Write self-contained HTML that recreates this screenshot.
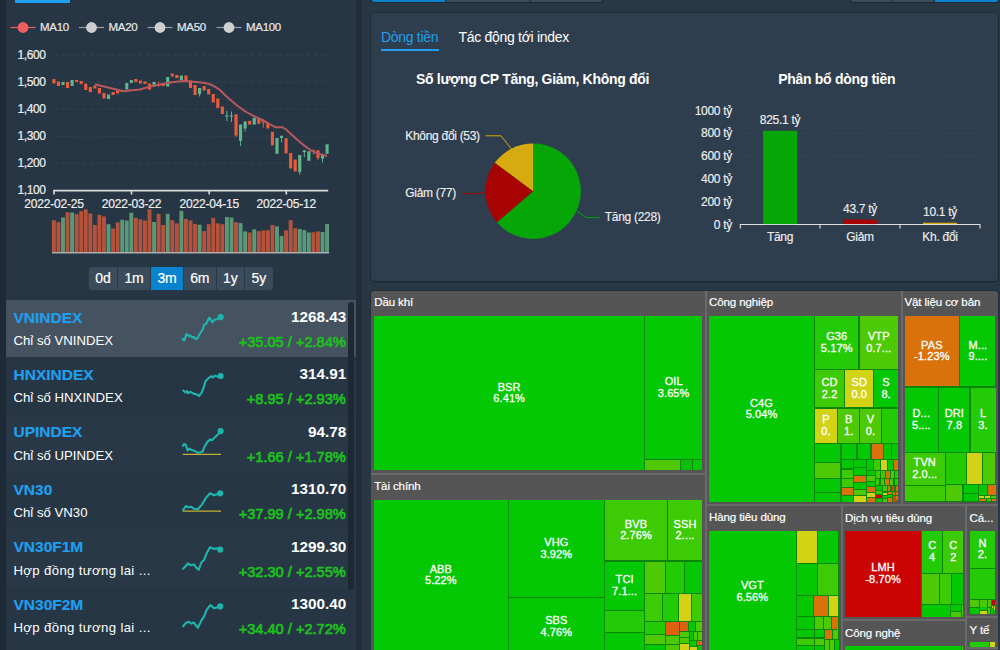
<!DOCTYPE html>
<html lang="vi"><head><meta charset="utf-8"><title>Market</title>
<style>
html,body{margin:0;padding:0}
body{width:1000px;height:650px;overflow:hidden;position:relative;background:#273743;font-family:"Liberation Sans",sans-serif;color:#fff}
#root{position:absolute;left:0;top:0;width:1000px;height:650px;overflow:hidden}
#root div{position:absolute}
.t{position:absolute;white-space:nowrap;line-height:1;letter-spacing:-0.3px}
.r{transform:translateX(-100%)}
.c{transform:translateX(-50%)}
.b{font-weight:bold}
svg{position:absolute;left:0;top:0}
.lab{position:absolute;display:flex;flex-direction:column;align-items:center;justify-content:center;font-size:11px;line-height:11.4px;color:#fff;text-align:center;white-space:nowrap;letter-spacing:0.1px;-webkit-text-stroke:0.3px #fff}
</style></head><body><div id="root">

<div style="left:0.0px;top:0.0px;width:5.5px;height:650.0px;background:#1e2a36;"></div>
<div style="left:5.5px;top:0.0px;width:350.5px;height:650.0px;background:#263645;"></div>
<div style="left:356.0px;top:0.0px;width:6.0px;height:650.0px;background:#212d38;"></div>
<div style="left:15.4px;top:0.0px;width:54.6px;height:2.6px;background:#1f9fee;"></div>
<div style="left:371.3px;top:0.0px;width:231.7px;height:2.8px;background:#1f2a35;border-radius:0 0 4px 4px"></div>
<div style="left:850.3px;top:0.0px;width:148.4px;height:2.8px;background:#1f2a35;border-radius:0 0 4px 4px"></div>
<div style="left:372.0px;top:0.0px;width:73.0px;height:2.1px;background:#0a83cf;border-radius:0 0 0 3px"></div>
<div style="left:446.0px;top:0.0px;width:84.0px;height:2.1px;background:#3a4b5b;"></div>
<div style="left:531.0px;top:0.0px;width:71.0px;height:2.1px;background:#3a4b5b;border-radius:0 0 3px 0"></div>
<div style="left:851.0px;top:0.0px;width:40.0px;height:2.1px;background:#3a4b5b;border-radius:0 0 0 3px"></div>
<div style="left:892.0px;top:0.0px;width:42.0px;height:2.1px;background:#3a4b5b;"></div>
<div style="left:935.0px;top:0.0px;width:63.0px;height:2.0px;background:#0a83cf;border-radius:0 0 3px 0"></div>
<div style="left:371.0px;top:13.2px;width:627.0px;height:267.8px;background:#2f3e4f;border-radius:4px;box-shadow:0 0 0 1px rgba(20,30,40,.35),0 1px 2px rgba(0,0,0,.25)"></div>
<span class="t " style="left:40.0px;top:22.0px;font-size:11.5px;color:#e8e8e8;-webkit-text-stroke:0.2px #e8e8e8">MA10</span>
<span class="t " style="left:108.5px;top:22.0px;font-size:11.5px;color:#e8e8e8;-webkit-text-stroke:0.2px #e8e8e8">MA20</span>
<span class="t " style="left:177.0px;top:22.0px;font-size:11.5px;color:#e8e8e8;-webkit-text-stroke:0.2px #e8e8e8">MA50</span>
<span class="t " style="left:246.0px;top:22.0px;font-size:11.5px;color:#e8e8e8;-webkit-text-stroke:0.2px #e8e8e8">MA100</span>
<span class="t r" style="left:45.5px;top:48.6px;font-size:12px;color:#eee;letter-spacing:-0.4px;-webkit-text-stroke:0.2px #eee">1,600</span>
<span class="t r" style="left:45.5px;top:75.6px;font-size:12px;color:#eee;letter-spacing:-0.4px;-webkit-text-stroke:0.2px #eee">1,500</span>
<span class="t r" style="left:45.5px;top:102.6px;font-size:12px;color:#eee;letter-spacing:-0.4px;-webkit-text-stroke:0.2px #eee">1,400</span>
<span class="t r" style="left:45.5px;top:129.7px;font-size:12px;color:#eee;letter-spacing:-0.4px;-webkit-text-stroke:0.2px #eee">1,300</span>
<span class="t r" style="left:45.5px;top:156.7px;font-size:12px;color:#eee;letter-spacing:-0.4px;-webkit-text-stroke:0.2px #eee">1,200</span>
<span class="t r" style="left:45.5px;top:183.7px;font-size:12px;color:#eee;letter-spacing:-0.4px;-webkit-text-stroke:0.2px #eee">1,100</span>
<span class="t c" style="left:54.0px;top:198.0px;font-size:12px;color:#eee;letter-spacing:-0.2px;-webkit-text-stroke:0.2px #eee">2022-02-25</span>
<span class="t c" style="left:131.5px;top:198.0px;font-size:12px;color:#eee;letter-spacing:-0.2px;-webkit-text-stroke:0.2px #eee">2022-03-22</span>
<span class="t c" style="left:209.2px;top:198.0px;font-size:12px;color:#eee;letter-spacing:-0.2px;-webkit-text-stroke:0.2px #eee">2022-04-15</span>
<span class="t c" style="left:286.3px;top:198.0px;font-size:12px;color:#eee;letter-spacing:-0.2px;-webkit-text-stroke:0.2px #eee">2022-05-12</span>
<div style="left:88.2px;top:266.6px;width:185.3px;height:24.1px;background:#2b3947;border-radius:4px"></div>
<div style="left:89.2px;top:267.2px;width:27.6px;height:23.0px;background:#3a4b5b;border-radius:3px 0 0 3px"></div>
<span class="t c" style="left:103.0px;top:271.0px;font-size:14px;color:#fff;letter-spacing:-0.1px;-webkit-text-stroke:0.2px #fff">0d</span>
<div style="left:117.8px;top:267.2px;width:32.4px;height:23.0px;background:#3a4b5b;"></div>
<span class="t c" style="left:134.0px;top:271.0px;font-size:14px;color:#fff;letter-spacing:-0.1px;-webkit-text-stroke:0.2px #fff">1m</span>
<div style="left:151.2px;top:267.2px;width:31.6px;height:23.0px;background:#0a83cf;"></div>
<span class="t c" style="left:167.0px;top:271.0px;font-size:14px;color:#fff;letter-spacing:-0.1px;-webkit-text-stroke:0.2px #fff">3m</span>
<div style="left:183.8px;top:267.2px;width:32.0px;height:23.0px;background:#3a4b5b;"></div>
<span class="t c" style="left:199.8px;top:271.0px;font-size:14px;color:#fff;letter-spacing:-0.1px;-webkit-text-stroke:0.2px #fff">6m</span>
<div style="left:216.8px;top:267.2px;width:27.2px;height:23.0px;background:#3a4b5b;"></div>
<span class="t c" style="left:230.4px;top:271.0px;font-size:14px;color:#fff;letter-spacing:-0.1px;-webkit-text-stroke:0.2px #fff">1y</span>
<div style="left:245.0px;top:267.2px;width:27.5px;height:23.0px;background:#3a4b5b;border-radius:0 3px 3px 0"></div>
<span class="t c" style="left:258.8px;top:271.0px;font-size:14px;color:#fff;letter-spacing:-0.1px;-webkit-text-stroke:0.2px #fff">5y</span>
<div style="left:5.5px;top:299.5px;width:350.5px;height:57.5px;background:#45525f;"></div>
<span class="t b" style="left:13.5px;top:309.5px;font-size:15.5px;color:#1f9fee;letter-spacing:0;-webkit-text-stroke:0.2px #1f9fee">VNINDEX</span>
<span class="t " style="left:13.5px;top:333.8px;font-size:13.2px;color:#fff;letter-spacing:0">Chỉ số VNINDEX</span>
<span class="t b r" style="left:346.2px;top:309.0px;font-size:15.3px;color:#fff;letter-spacing:0">1268.43</span>
<span class="t r" style="left:345.8px;top:334.7px;font-size:14.6px;color:#1dc01d;letter-spacing:0;-webkit-text-stroke:0.7px #1dc01d">+35.05 / +2.84%</span>
<span class="t b" style="left:13.5px;top:366.9px;font-size:15.5px;color:#1f9fee;letter-spacing:0;-webkit-text-stroke:0.2px #1f9fee">HNXINDEX</span>
<span class="t " style="left:13.5px;top:391.2px;font-size:13.2px;color:#fff;letter-spacing:0">Chỉ số HNXINDEX</span>
<span class="t b r" style="left:346.2px;top:366.4px;font-size:15.3px;color:#fff;letter-spacing:0">314.91</span>
<span class="t r" style="left:345.8px;top:392.1px;font-size:14.6px;color:#1dc01d;letter-spacing:0;-webkit-text-stroke:0.7px #1dc01d">+8.95 / +2.93%</span>
<div style="left:5.5px;top:414.4px;width:350.5px;height:57.4px;background:#283847;"></div>
<span class="t b" style="left:13.5px;top:424.4px;font-size:15.5px;color:#1f9fee;letter-spacing:0;-webkit-text-stroke:0.2px #1f9fee">UPINDEX</span>
<span class="t " style="left:13.5px;top:448.7px;font-size:13.2px;color:#fff;letter-spacing:0">Chỉ số UPINDEX</span>
<span class="t b r" style="left:346.2px;top:423.9px;font-size:15.3px;color:#fff;letter-spacing:0">94.78</span>
<span class="t r" style="left:345.8px;top:449.6px;font-size:14.6px;color:#1dc01d;letter-spacing:0;-webkit-text-stroke:0.7px #1dc01d">+1.66 / +1.78%</span>
<span class="t b" style="left:13.5px;top:481.9px;font-size:15.5px;color:#1f9fee;letter-spacing:0;-webkit-text-stroke:0.2px #1f9fee">VN30</span>
<span class="t " style="left:13.5px;top:506.2px;font-size:13.2px;color:#fff;letter-spacing:0">Chỉ số VN30</span>
<span class="t b r" style="left:346.2px;top:481.4px;font-size:15.3px;color:#fff;letter-spacing:0">1310.70</span>
<span class="t r" style="left:345.8px;top:507.1px;font-size:14.6px;color:#1dc01d;letter-spacing:0;-webkit-text-stroke:0.7px #1dc01d">+37.99 / +2.98%</span>
<div style="left:5.5px;top:529.3px;width:350.5px;height:57.5px;background:#283847;"></div>
<span class="t b" style="left:13.5px;top:539.3px;font-size:15.5px;color:#1f9fee;letter-spacing:0;-webkit-text-stroke:0.2px #1f9fee">VN30F1M</span>
<span class="t " style="left:13.5px;top:563.6px;font-size:13.2px;color:#fff;letter-spacing:0.35px">Hợp đồng tương lai ...</span>
<span class="t b r" style="left:346.2px;top:538.8px;font-size:15.3px;color:#fff;letter-spacing:0">1299.30</span>
<span class="t r" style="left:345.8px;top:564.5px;font-size:14.6px;color:#1dc01d;letter-spacing:0;-webkit-text-stroke:0.7px #1dc01d">+32.30 / +2.55%</span>
<span class="t b" style="left:13.5px;top:596.8px;font-size:15.5px;color:#1f9fee;letter-spacing:0;-webkit-text-stroke:0.2px #1f9fee">VN30F2M</span>
<span class="t " style="left:13.5px;top:621.0px;font-size:13.2px;color:#fff;letter-spacing:0.35px">Hợp đồng tương lai ...</span>
<span class="t b r" style="left:346.2px;top:596.2px;font-size:15.3px;color:#fff;letter-spacing:0">1300.40</span>
<span class="t r" style="left:345.8px;top:622.0px;font-size:14.6px;color:#1dc01d;letter-spacing:0;-webkit-text-stroke:0.7px #1dc01d">+34.40 / +2.72%</span>
<div style="left:348.0px;top:302.0px;width:5.7px;height:288.0px;background:#1d2833;border-radius:3px"></div>
<span class="t " style="left:381.0px;top:30.0px;font-size:14px;color:#1f9fee">Dòng tiền</span>
<div style="left:381.0px;top:49.0px;width:57.5px;height:2.3px;background:#1f9fee;"></div>
<span class="t " style="left:458.5px;top:30.0px;font-size:14px;color:#fff">Tác động tới index</span>
<span class="t b c" style="left:532.5px;top:72.0px;font-size:14px;color:#fff">Số lượng CP Tăng, Giảm, Không đổi</span>
<span class="t b c" style="left:836.7px;top:72.0px;font-size:14px;color:#fff">Phân bổ dòng tiền</span>
<span class="t " style="left:405.3px;top:129.5px;font-size:12px;color:#eee;-webkit-text-stroke:0.15px #eee">Không đổi (53)</span>
<span class="t " style="left:405.3px;top:186.5px;font-size:12px;color:#eee;-webkit-text-stroke:0.15px #eee">Giảm (77)</span>
<span class="t " style="left:604.8px;top:210.5px;font-size:12px;color:#eee;-webkit-text-stroke:0.15px #eee">Tăng (228)</span>
<span class="t r" style="left:732.0px;top:104.6px;font-size:12px;color:#eee;-webkit-text-stroke:0.15px #eee">1000 tỷ</span>
<span class="t r" style="left:732.0px;top:127.4px;font-size:12px;color:#eee;-webkit-text-stroke:0.15px #eee">800 tỷ</span>
<span class="t r" style="left:732.0px;top:150.2px;font-size:12px;color:#eee;-webkit-text-stroke:0.15px #eee">600 tỷ</span>
<span class="t r" style="left:732.0px;top:172.9px;font-size:12px;color:#eee;-webkit-text-stroke:0.15px #eee">400 tỷ</span>
<span class="t r" style="left:732.0px;top:195.7px;font-size:12px;color:#eee;-webkit-text-stroke:0.15px #eee">200 tỷ</span>
<span class="t r" style="left:732.0px;top:218.5px;font-size:12px;color:#eee;-webkit-text-stroke:0.15px #eee">0 tỷ</span>
<span class="t c" style="left:780.0px;top:113.7px;font-size:12px;color:#eee;-webkit-text-stroke:0.15px #eee">825.1 tỷ</span>
<span class="t c" style="left:860.0px;top:203.0px;font-size:12px;color:#eee;-webkit-text-stroke:0.15px #eee">43.7 tỷ</span>
<span class="t c" style="left:940.0px;top:206.4px;font-size:12px;color:#eee;-webkit-text-stroke:0.15px #eee">10.1 tỷ</span>
<span class="t c" style="left:780.0px;top:231.4px;font-size:12px;color:#eee;-webkit-text-stroke:0.15px #eee">Tăng</span>
<span class="t c" style="left:860.0px;top:231.4px;font-size:12px;color:#eee;-webkit-text-stroke:0.15px #eee">Giảm</span>
<span class="t c" style="left:940.0px;top:231.4px;font-size:12px;color:#eee;-webkit-text-stroke:0.15px #eee">Kh. đổi</span>
<svg width="1000" height="650" viewBox="0 0 1000 650"><line x1="10.5" y1="27.5" x2="35.5" y2="27.5" stroke="#ee6060" stroke-width="1.2"/><circle cx="23" cy="27.5" r="5.4" fill="#ee6060"/><line x1="79.0" y1="27.5" x2="104.0" y2="27.5" stroke="#9aa0a6" stroke-width="1.2"/><circle cx="91.5" cy="27.5" r="5.4" fill="#cfcfcf"/><line x1="147.5" y1="27.5" x2="172.5" y2="27.5" stroke="#9aa0a6" stroke-width="1.2"/><circle cx="160" cy="27.5" r="5.4" fill="#cfcfcf"/><line x1="216.5" y1="27.5" x2="241.5" y2="27.5" stroke="#9aa0a6" stroke-width="1.2"/><circle cx="229" cy="27.5" r="5.4" fill="#cfcfcf"/><line x1="54.5" y1="55.1" x2="328" y2="55.1" stroke="#36444f" stroke-width="1" stroke-dasharray="4 3"/><line x1="54.5" y1="82.1" x2="328" y2="82.1" stroke="#36444f" stroke-width="1" stroke-dasharray="4 3"/><line x1="54.5" y1="109.1" x2="328" y2="109.1" stroke="#36444f" stroke-width="1" stroke-dasharray="4 3"/><line x1="54.5" y1="136.2" x2="328" y2="136.2" stroke="#36444f" stroke-width="1" stroke-dasharray="4 3"/><line x1="54.5" y1="163.2" x2="328" y2="163.2" stroke="#36444f" stroke-width="1" stroke-dasharray="4 3"/><path d="M54 194.5V190.7H328.2 M131.5 190.7V194.5 M209.2 190.7V194.5 M286.3 190.7V194.5" stroke="#d8d8d8" stroke-width="1.7" fill="none"/><rect x="52.35" y="79" width="3.1" height="4.5" fill="#eb5b3c"/><rect x="56.90" y="81.5" width="3.1" height="4.5" fill="#eb5b3c"/><rect x="61.46" y="82" width="3.1" height="3.0" fill="#62b68e"/><rect x="66.01" y="82" width="3.1" height="6.0" fill="#eb5b3c"/><rect x="70.56" y="80" width="3.1" height="6.0" fill="#62b68e"/><rect x="75.11" y="80" width="3.1" height="2.0" fill="#eb5b3c"/><rect x="79.67" y="81" width="3.1" height="3.0" fill="#eb5b3c"/><line x1="85.77" y1="83" x2="85.77" y2="90" stroke="#eb5b3c" stroke-width="1"/><rect x="84.22" y="84" width="3.1" height="6.0" fill="#eb5b3c"/><rect x="88.77" y="87" width="3.1" height="5.0" fill="#eb5b3c"/><rect x="93.33" y="85.5" width="3.1" height="3.0" fill="#eb5b3c"/><rect x="97.88" y="88" width="3.1" height="5.5" fill="#eb5b3c"/><rect x="102.43" y="93" width="3.1" height="5.5" fill="#eb5b3c"/><rect x="106.99" y="94.5" width="3.1" height="4.5" fill="#62b68e"/><rect x="111.54" y="92" width="3.1" height="3.0" fill="#eb5b3c"/><rect x="116.09" y="90.5" width="3.1" height="3.0" fill="#eb5b3c"/><rect x="120.64" y="90" width="3.1" height="2.0" fill="#62b68e"/><rect x="125.20" y="83" width="3.1" height="6.5" fill="#62b68e"/><rect x="129.75" y="80" width="3.1" height="3.0" fill="#62b68e"/><rect x="134.30" y="79" width="3.1" height="3.0" fill="#eb5b3c"/><rect x="138.86" y="80.5" width="3.1" height="3.0" fill="#eb5b3c"/><rect x="143.41" y="81.5" width="3.1" height="2.5" fill="#eb5b3c"/><rect x="147.96" y="83.5" width="3.1" height="6.0" fill="#eb5b3c"/><rect x="152.52" y="82" width="3.1" height="4.5" fill="#62b68e"/><line x1="158.62" y1="81.5" x2="158.62" y2="87" stroke="#eb5b3c" stroke-width="1"/><rect x="157.07" y="84" width="3.1" height="1.5" fill="#eb5b3c"/><rect x="161.62" y="83" width="3.1" height="3.0" fill="#eb5b3c"/><rect x="166.17" y="77" width="3.1" height="9.5" fill="#62b68e"/><rect x="170.73" y="73.5" width="3.1" height="3.0" fill="#eb5b3c"/><rect x="175.28" y="75" width="3.1" height="3.0" fill="#eb5b3c"/><rect x="179.83" y="75.5" width="3.1" height="4.5" fill="#62b68e"/><rect x="184.39" y="75.5" width="3.1" height="6.0" fill="#eb5b3c"/><rect x="188.94" y="80.5" width="3.1" height="7.5" fill="#eb5b3c"/><rect x="193.49" y="85" width="3.1" height="10.0" fill="#eb5b3c"/><line x1="199.60" y1="88" x2="199.60" y2="96.5" stroke="#62b68e" stroke-width="1"/><rect x="198.05" y="88" width="3.1" height="6.0" fill="#62b68e"/><rect x="202.60" y="86" width="3.1" height="4.5" fill="#eb5b3c"/><rect x="207.15" y="89" width="3.1" height="5.5" fill="#eb5b3c"/><rect x="211.70" y="94" width="3.1" height="8.5" fill="#eb5b3c"/><rect x="216.26" y="98.5" width="3.1" height="9.5" fill="#eb5b3c"/><rect x="220.81" y="106.5" width="3.1" height="7.5" fill="#eb5b3c"/><line x1="226.91" y1="111" x2="226.91" y2="121" stroke="#62b68e" stroke-width="1"/><rect x="225.36" y="115.4" width="3.1" height="1.2" fill="#62b68e"/><line x1="231.47" y1="111.5" x2="231.47" y2="122" stroke="#62b68e" stroke-width="1"/><rect x="229.92" y="115.6" width="3.1" height="1.2" fill="#62b68e"/><line x1="236.02" y1="114.3" x2="236.02" y2="137" stroke="#eb5b3c" stroke-width="1"/><rect x="234.47" y="114.3" width="3.1" height="21.1" fill="#eb5b3c"/><line x1="240.57" y1="124.6" x2="240.57" y2="146" stroke="#62b68e" stroke-width="1"/><rect x="239.02" y="124.6" width="3.1" height="16.2" fill="#62b68e"/><line x1="245.13" y1="121.5" x2="245.13" y2="131.5" stroke="#62b68e" stroke-width="1"/><rect x="243.58" y="121.5" width="3.1" height="7.0" fill="#62b68e"/><rect x="248.13" y="120.8" width="3.1" height="3.8" fill="#eb5b3c"/><rect x="252.68" y="117.7" width="3.1" height="6.9" fill="#62b68e"/><rect x="257.23" y="118" width="3.1" height="5.8" fill="#eb5b3c"/><line x1="263.34" y1="119" x2="263.34" y2="127.7" stroke="#eb5b3c" stroke-width="1"/><rect x="261.79" y="120" width="3.1" height="2.3" fill="#eb5b3c"/><rect x="266.34" y="123" width="3.1" height="5.5" fill="#eb5b3c"/><rect x="270.89" y="131.8" width="3.1" height="13.6" fill="#eb5b3c"/><rect x="275.45" y="138" width="3.1" height="15.8" fill="#62b68e"/><line x1="281.55" y1="135.4" x2="281.55" y2="142.3" stroke="#62b68e" stroke-width="1"/><rect x="280.00" y="136" width="3.1" height="2.0" fill="#62b68e"/><rect x="284.55" y="138.2" width="3.1" height="15.2" fill="#eb5b3c"/><rect x="289.11" y="153" width="3.1" height="15.5" fill="#eb5b3c"/><rect x="293.66" y="159.5" width="3.1" height="12.0" fill="#eb5b3c"/><line x1="299.76" y1="155" x2="299.76" y2="174.6" stroke="#62b68e" stroke-width="1"/><rect x="298.21" y="155" width="3.1" height="17.0" fill="#62b68e"/><line x1="304.31" y1="150.3" x2="304.31" y2="157" stroke="#62b68e" stroke-width="1"/><rect x="302.76" y="150.3" width="3.1" height="1.7" fill="#62b68e"/><rect x="307.32" y="151.2" width="3.1" height="9.6" fill="#62b68e"/><line x1="313.42" y1="149.2" x2="313.42" y2="154.6" stroke="#eb5b3c" stroke-width="1"/><rect x="311.87" y="150.5" width="3.1" height="1.5" fill="#eb5b3c"/><line x1="317.97" y1="150.3" x2="317.97" y2="160" stroke="#eb5b3c" stroke-width="1"/><rect x="316.42" y="150.3" width="3.1" height="7.7" fill="#eb5b3c"/><line x1="322.53" y1="154.3" x2="322.53" y2="162.3" stroke="#62b68e" stroke-width="1"/><rect x="320.98" y="154.3" width="3.1" height="4.2" fill="#62b68e"/><rect x="325.53" y="144.3" width="3.1" height="9.5" fill="#62b68e"/><polyline fill="none" stroke="#b9585a" stroke-width="2" stroke-linejoin="round" points="95,84.3 105,86.8 115,89.2 124,91.2 132,90.3 140,89.5 150,86.5 160,84.5 170,82.5 183,81 190,81.5 198,82.3 205,83 209,84 212,85.2 216,87.3 220,90 225,95 230,99.5 237,105.5 245.4,111.5 252,115.2 259,118.5 267,122.5 273,126 276,127.2 279,127.3 282.3,127.2 286,129.5 291.5,134.6 297,139.5 304,145.4 309,149 313,151.5 320,154 327,156"/><rect x="51.95" y="220.2" width="3.9" height="32.1" fill="#b4523b"/><rect x="56.50" y="222.1" width="3.9" height="30.2" fill="#b4523b"/><rect x="61.06" y="217.5" width="3.9" height="34.8" fill="#5a9878"/><rect x="65.61" y="212.2" width="3.9" height="40.1" fill="#b4523b"/><rect x="70.16" y="212.5" width="3.9" height="39.8" fill="#5a9878"/><rect x="74.71" y="214.1" width="3.9" height="38.2" fill="#b4523b"/><rect x="79.27" y="211.1" width="3.9" height="41.2" fill="#b4523b"/><rect x="83.82" y="209.3" width="3.9" height="43.0" fill="#b4523b"/><rect x="88.37" y="213.5" width="3.9" height="38.8" fill="#b4523b"/><rect x="92.93" y="225.0" width="3.9" height="27.3" fill="#b4523b"/><rect x="97.48" y="214.8" width="3.9" height="37.5" fill="#b4523b"/><rect x="102.03" y="216.4" width="3.9" height="35.9" fill="#b4523b"/><rect x="106.59" y="224.2" width="3.9" height="28.1" fill="#5a9878"/><rect x="111.14" y="228.5" width="3.9" height="23.8" fill="#b4523b"/><rect x="115.69" y="222.3" width="3.9" height="30.0" fill="#b4523b"/><rect x="120.24" y="219.7" width="3.9" height="32.6" fill="#5a9878"/><rect x="124.80" y="220.5" width="3.9" height="31.8" fill="#5a9878"/><rect x="129.35" y="212.7" width="3.9" height="39.6" fill="#5a9878"/><rect x="133.90" y="217.8" width="3.9" height="34.5" fill="#b4523b"/><rect x="138.46" y="219.4" width="3.9" height="32.9" fill="#b4523b"/><rect x="143.01" y="220.5" width="3.9" height="31.8" fill="#b4523b"/><rect x="147.56" y="209.3" width="3.9" height="43.0" fill="#b4523b"/><rect x="152.12" y="222.1" width="3.9" height="30.2" fill="#5a9878"/><rect x="156.67" y="213.8" width="3.9" height="38.5" fill="#b4523b"/><rect x="161.22" y="225.0" width="3.9" height="27.3" fill="#b4523b"/><rect x="165.78" y="213.8" width="3.9" height="38.5" fill="#5a9878"/><rect x="170.33" y="220.2" width="3.9" height="32.1" fill="#b4523b"/><rect x="174.88" y="223.4" width="3.9" height="28.9" fill="#b4523b"/><rect x="179.43" y="210.9" width="3.9" height="41.4" fill="#5a9878"/><rect x="183.99" y="218.9" width="3.9" height="33.4" fill="#b4523b"/><rect x="188.54" y="220.5" width="3.9" height="31.8" fill="#b4523b"/><rect x="193.09" y="223.9" width="3.9" height="28.4" fill="#b4523b"/><rect x="197.65" y="224.7" width="3.9" height="27.6" fill="#5a9878"/><rect x="202.20" y="231.1" width="3.9" height="21.2" fill="#b4523b"/><rect x="206.75" y="224.2" width="3.9" height="28.1" fill="#b4523b"/><rect x="211.31" y="217.8" width="3.9" height="34.5" fill="#b4523b"/><rect x="215.86" y="223.4" width="3.9" height="28.9" fill="#b4523b"/><rect x="220.41" y="224.2" width="3.9" height="28.1" fill="#b4523b"/><rect x="224.96" y="217.0" width="3.9" height="35.3" fill="#5a9878"/><rect x="229.52" y="217.5" width="3.9" height="34.8" fill="#5a9878"/><rect x="234.07" y="222.1" width="3.9" height="30.2" fill="#b4523b"/><rect x="238.62" y="223.1" width="3.9" height="29.2" fill="#5a9878"/><rect x="243.18" y="231.4" width="3.9" height="20.9" fill="#5a9878"/><rect x="247.73" y="232.5" width="3.9" height="19.8" fill="#b4523b"/><rect x="252.28" y="229.3" width="3.9" height="23.0" fill="#5a9878"/><rect x="256.83" y="231.1" width="3.9" height="21.2" fill="#b4523b"/><rect x="261.39" y="230.4" width="3.9" height="21.9" fill="#b4523b"/><rect x="265.94" y="230.3" width="3.9" height="22.0" fill="#b4523b"/><rect x="270.49" y="225.0" width="3.9" height="27.3" fill="#b4523b"/><rect x="275.05" y="226.3" width="3.9" height="26.0" fill="#5a9878"/><rect x="279.60" y="235.9" width="3.9" height="16.4" fill="#5a9878"/><rect x="284.15" y="230.3" width="3.9" height="22.0" fill="#b4523b"/><rect x="288.71" y="220.2" width="3.9" height="32.1" fill="#b4523b"/><rect x="293.26" y="228.2" width="3.9" height="24.1" fill="#b4523b"/><rect x="297.81" y="229.0" width="3.9" height="23.3" fill="#5a9878"/><rect x="302.37" y="230.1" width="3.9" height="22.2" fill="#5a9878"/><rect x="306.92" y="232.5" width="3.9" height="19.8" fill="#5a9878"/><rect x="311.47" y="232.2" width="3.9" height="20.1" fill="#b4523b"/><rect x="316.02" y="231.4" width="3.9" height="20.9" fill="#b4523b"/><rect x="320.58" y="231.9" width="3.9" height="20.4" fill="#5a9878"/><rect x="325.13" y="223.9" width="3.9" height="28.4" fill="#5a9878"/><rect x="52" y="252.2" width="277" height="1.2" fill="#c9c9c9"/><line x1="182.7" y1="454.3" x2="221" y2="454.3" stroke="#c4b02e" stroke-width="1.3"/><line x1="182.7" y1="511.2" x2="221" y2="511.2" stroke="#c4b02e" stroke-width="1.3"/><polyline fill="none" stroke="#1fb5ad" stroke-width="2.1" stroke-linejoin="round" stroke-linecap="round" points="182.4,338.8 184.2,340.6 186.5,334.2 188.9,336 190.2,335.5 192.1,337.4 193.9,336.9 195.8,339.2 197.6,337.9 199.5,334.6 201.3,331.4 202.7,329.5 204.1,324.9 206.4,323.5 209.2,317.5 210.5,319.4 212.4,322.2 214.2,319.9 217.5,318.9 220.7,317.1"/><circle cx="220.7" cy="317.1" r="3.1" fill="#1fb5ad"/><polyline fill="none" stroke="#1fb5ad" stroke-width="2.1" stroke-linejoin="round" stroke-linecap="round" points="183.3,390.5 185.2,392.3 187,391 187.9,393.2 190.7,391.8 193.5,393.6 196.2,394.2 199,396 201.8,392.3 203.6,387.7 205.5,381.2 208.2,378.5 211,376.2 212.8,377.5 214.7,375.7 217.5,376.6 220.6,376"/><circle cx="220.6" cy="376" r="3.1" fill="#1fb5ad"/><polyline fill="none" stroke="#1fb5ad" stroke-width="2.1" stroke-linejoin="round" stroke-linecap="round" points="182.8,445.8 184.2,444 185.7,444.6 187.6,450.5 189.4,448.6 191.6,450.1 194.4,450.8 198.1,452.9 202.7,451.4 204.5,446.8 207.3,442.1 210.1,439.4 211.9,440.3 214.7,437.5 217.5,434.8 220.6,431.1"/><circle cx="220.6" cy="431.1" r="3.1" fill="#1fb5ad"/><polyline fill="none" stroke="#1fb5ad" stroke-width="2.1" stroke-linejoin="round" stroke-linecap="round" points="183.1,510 185.8,506 188.5,507.3 191.2,506.8 193.8,508.7 197.9,509.2 201.9,504.6 206,497.9 210,493.3 214,495.2 220.2,493.3"/><circle cx="220.2" cy="493.3" r="3.1" fill="#1fb5ad"/><polyline fill="none" stroke="#1fb5ad" stroke-width="2.1" stroke-linejoin="round" stroke-linecap="round" points="183.1,568.7 185.8,566 187.9,563.3 190.6,565.2 193.8,564.4 196.5,567.9 198.7,569.8 201.4,562.5 204.1,559.8 206.8,553.1 210,547.2 214,549 216.7,548.2 220.2,549.6"/><circle cx="220.2" cy="549.6" r="3.1" fill="#1fb5ad"/><polyline fill="none" stroke="#1fb5ad" stroke-width="2.1" stroke-linejoin="round" stroke-linecap="round" points="183.1,626.3 186.3,622.5 189,621.7 191.2,623.6 193.8,622.5 197.9,627.9 201.4,620.4 204.1,616.4 206.8,609.6 210.5,605 214,608.3 220.2,606.4"/><circle cx="220.2" cy="606.4" r="3.1" fill="#1fb5ad"/><path d="M533.1,191.2L533.10,143.50A47.7,47.7 0 1 1 496.95,222.32Z" fill="#07a607"/><path d="M533.1,191.2L496.95,222.32A47.7,47.7 0 0 1 494.86,162.69Z" fill="#a70303"/><path d="M533.1,191.2L494.86,162.69A47.7,47.7 0 0 1 533.10,143.50Z" fill="#d6ab10"/><polyline fill="none" stroke="#d6ab10" stroke-width="1" points="485.5,135.8 501,135.8 511.3,148.8"/><polyline fill="none" stroke="#a70303" stroke-width="1" points="462.3,193.7 476,193.7 487,191.5"/><polyline fill="none" stroke="#07a607" stroke-width="1" points="576.6,211 586,217.6 599.4,217.6"/><line x1="741" y1="110.6" x2="980" y2="110.6" stroke="#384751" stroke-width="1" stroke-dasharray="4 3"/><line x1="741" y1="133.4" x2="980" y2="133.4" stroke="#384751" stroke-width="1" stroke-dasharray="4 3"/><line x1="741" y1="156.2" x2="980" y2="156.2" stroke="#384751" stroke-width="1" stroke-dasharray="4 3"/><line x1="741" y1="178.9" x2="980" y2="178.9" stroke="#384751" stroke-width="1" stroke-dasharray="4 3"/><line x1="741" y1="201.7" x2="980" y2="201.7" stroke="#384751" stroke-width="1" stroke-dasharray="4 3"/><path d="M740.3 228.5V224.5H980V228.5 M820 224.5V228.5 M900 224.5V228.5" stroke="#e0e0e0" stroke-width="1.1" fill="none"/><rect x="763.1" y="130.8" width="34.1" height="93.3" fill="#07a607"/><rect x="843" y="219.5" width="33.8" height="4.6" fill="#a70303"/><rect x="923" y="222.7" width="34" height="1.3" fill="#d6ab10"/></svg>
<div style="left:370.3px;top:290.2px;width:628.3px;height:29.8px;background:#222e39;border-radius:3.5px"></div>
<div style="left:0;top:0;width:1000px;height:650px;clip-path:inset(291px 2px 0 371px round 3px 3px 0 0)">
<div style="left:371.0px;top:291.0px;width:627.0px;height:369.0px;background:#555555;"></div>
<span class="t " style="left:374.2px;top:297.3px;font-size:11.5px;color:#fff;letter-spacing:-0.1px;-webkit-text-stroke:0.2px #fff">Dầu khí</span>
<span class="t " style="left:374.2px;top:480.8px;font-size:11.5px;color:#fff;letter-spacing:-0.1px;-webkit-text-stroke:0.2px #fff">Tài chính</span>
<span class="t " style="left:709.0px;top:297.3px;font-size:11.5px;color:#fff;letter-spacing:-0.1px;-webkit-text-stroke:0.2px #fff">Công nghiệp</span>
<span class="t " style="left:904.5px;top:297.3px;font-size:11.5px;color:#fff;letter-spacing:-0.1px;-webkit-text-stroke:0.2px #fff">Vật liệu cơ bản</span>
<span class="t " style="left:709.0px;top:512.4px;font-size:11.5px;color:#fff;letter-spacing:-0.1px;-webkit-text-stroke:0.2px #fff">Hàng tiêu dùng</span>
<span class="t " style="left:845.0px;top:512.5px;font-size:11.5px;color:#fff;letter-spacing:-0.1px;-webkit-text-stroke:0.2px #fff">Dịch vụ tiêu dùng</span>
<span class="t " style="left:969.5px;top:512.5px;font-size:11.5px;color:#fff;letter-spacing:-0.1px;-webkit-text-stroke:0.2px #fff">Cá...</span>
<span class="t " style="left:845.0px;top:627.8px;font-size:11.5px;color:#fff;letter-spacing:-0.1px;-webkit-text-stroke:0.2px #fff">Công nghệ</span>
<span class="t " style="left:969.5px;top:625.0px;font-size:11.5px;color:#fff;letter-spacing:-0.1px;-webkit-text-stroke:0.2px #fff">Y tế</span>
<div style="left:704.7px;top:291.0px;width:2.0px;height:359.0px;background:#6a6a6a;"></div>
<div style="left:900.5px;top:291.0px;width:2.0px;height:213.5px;background:#6a6a6a;"></div>
<div style="left:840.5px;top:504.5px;width:2.0px;height:145.5px;background:#6a6a6a;"></div>
<div style="left:965.2px;top:504.5px;width:2.0px;height:145.5px;background:#6a6a6a;"></div>
<div style="left:371.0px;top:472.8px;width:334.7px;height:2.0px;background:#6a6a6a;"></div>
<div style="left:705.7px;top:503.5px;width:292.3px;height:2.0px;background:#6a6a6a;"></div>
<div style="left:841.5px;top:618.6px;width:124.7px;height:2.0px;background:#6a6a6a;"></div>
<div style="left:966.2px;top:615.9px;width:31.8px;height:2.0px;background:#6a6a6a;"></div>
<div style="left:966.2px;top:647.3px;width:31.8px;height:2.0px;background:#6a6a6a;"></div>
<div style="left:374.0px;top:316.0px;width:328.0px;height:154.0px;background:#0b860b;"></div>
<div class="lab" style="left:374.0px;top:316.0px;width:270.3px;height:154.0px;background:#04c804"><span>BSR</span><span>6.41%</span></div>
<div class="lab" style="left:645.3px;top:316.0px;width:56.7px;height:143.3px;background:#04c804"><span>OIL</span><span>3.65%</span></div>
<div style="left:645.3px;top:460.4px;width:34.3px;height:9.6px;background:#4dca05;"></div>
<div style="left:680.7px;top:460.4px;width:11.5px;height:9.6px;background:#0bbf0b;"></div>
<div style="left:693.3px;top:460.4px;width:8.7px;height:9.6px;background:#04c804;"></div>
<div style="left:374.0px;top:500.0px;width:328.0px;height:150.0px;background:#0b860b;"></div>
<div class="lab" style="left:374.0px;top:500.0px;width:133.6px;height:150.0px;background:#04c804"><span>ABB</span><span>5.22%</span></div>
<div class="lab" style="left:508.6px;top:500.0px;width:95.4px;height:97.0px;background:#04c804"><span>VHG</span><span>3.92%</span></div>
<div class="lab" style="left:508.6px;top:598.0px;width:95.4px;height:57.0px;background:#04c804"><span>SBS</span><span>4.76%</span></div>
<div class="lab" style="left:605.0px;top:500.0px;width:62.0px;height:60.3px;background:#3ccb05"><span>BVB</span><span>2.76%</span></div>
<div class="lab" style="left:668.1px;top:500.0px;width:33.9px;height:60.3px;background:#3ccb05"><span>SSH</span><span>2....</span></div>
<div class="lab" style="left:605.0px;top:561.5px;width:39.2px;height:48.4px;background:#04c804"><span>TCI</span><span>7.1...</span></div>
<div style="left:605.0px;top:611.0px;width:39.2px;height:21.2px;background:#22cb06;"></div>
<div style="left:605.0px;top:633.4px;width:39.2px;height:16.6px;background:#04c804;"></div>
<div style="left:645.3px;top:561.5px;width:19.6px;height:31.1px;background:#4dca05;"></div>
<div style="left:666.0px;top:561.5px;width:18.2px;height:31.1px;background:#22cb06;"></div>
<div style="left:685.4px;top:561.5px;width:16.6px;height:31.1px;background:#04c804;"></div>
<div style="left:645.3px;top:593.8px;width:16.8px;height:27.4px;background:#3ccb05;"></div>
<div style="left:663.2px;top:593.8px;width:15.0px;height:27.4px;background:#22cb06;"></div>
<div style="left:679.3px;top:593.8px;width:11.3px;height:27.4px;background:#d3d316;"></div>
<div style="left:691.7px;top:593.8px;width:10.3px;height:27.4px;background:#3ccb05;"></div>
<div style="left:645.3px;top:622.4px;width:19.4px;height:11.8px;background:#22cb06;"></div>
<div style="left:665.9px;top:622.4px;width:12.9px;height:12.2px;background:#de6010;"></div>
<div style="left:680.0px;top:622.4px;width:7.7px;height:8.8px;background:#de6010;"></div>
<div style="left:688.8px;top:622.4px;width:6.4px;height:8.8px;background:#04c804;"></div>
<div style="left:696.3px;top:622.4px;width:5.7px;height:8.8px;background:#4dca05;"></div>
<div style="left:645.3px;top:635.4px;width:19.4px;height:8.8px;background:#4dca05;"></div>
<div style="left:665.9px;top:635.8px;width:12.9px;height:8.4px;background:#4dca05;"></div>
<div style="left:680.0px;top:632.4px;width:8.6px;height:4.8px;background:#4dca05;"></div>
<div style="left:680.0px;top:638.2px;width:8.6px;height:5.0px;background:#4dca05;"></div>
<div style="left:680.0px;top:644.3px;width:8.6px;height:5.7px;background:#d3d316;"></div>
<div style="left:689.7px;top:632.4px;width:3.5px;height:7.6px;background:#04c804;"></div>
<div style="left:694.2px;top:632.4px;width:3.2px;height:7.6px;background:#4dca05;"></div>
<div style="left:698.3px;top:632.4px;width:3.7px;height:7.6px;background:#4dca05;"></div>
<div style="left:689.7px;top:641.0px;width:6.3px;height:5.0px;background:#04c804;"></div>
<div style="left:697.0px;top:641.0px;width:5.0px;height:4.3px;background:#de6010;"></div>
<div style="left:689.7px;top:647.0px;width:7.3px;height:3.0px;background:#d3d316;"></div>
<div style="left:698.0px;top:646.3px;width:4.0px;height:3.7px;background:#04c804;"></div>
<div style="left:645.3px;top:645.4px;width:19.4px;height:4.6px;background:#04c804;"></div>
<div style="left:665.9px;top:645.4px;width:12.9px;height:4.6px;background:#4dca05;"></div>
<div style="left:709.0px;top:316.0px;width:189.0px;height:186.0px;background:#0b860b;"></div>
<div class="lab" style="left:709.0px;top:316.0px;width:105.0px;height:186.0px;background:#04c804"><span>C4G</span><span>5.04%</span></div>
<div class="lab" style="left:815.0px;top:316.0px;width:43.4px;height:53.2px;background:#22cb06"><span>G36</span><span>5.17%</span></div>
<div class="lab" style="left:859.5px;top:316.0px;width:38.5px;height:53.2px;background:#4dca05"><span>VTP</span><span>0.7...</span></div>
<div class="lab" style="left:815.0px;top:370.3px;width:29.2px;height:37.2px;background:#3ccb05"><span>CD</span><span>2.2</span></div>
<div class="lab" style="left:845.4px;top:370.3px;width:27.7px;height:37.2px;background:#d3d316"><span>SD</span><span>0.0</span></div>
<div class="lab" style="left:874.2px;top:370.3px;width:23.8px;height:37.2px;background:#04c804"><span>S</span><span>8.</span></div>
<div class="lab" style="left:815.0px;top:408.7px;width:22.1px;height:34.0px;background:#d3d316"><span>P</span><span>0.</span></div>
<div class="lab" style="left:838.2px;top:408.7px;width:20.9px;height:34.0px;background:#4dca05"><span>B</span><span>1.</span></div>
<div class="lab" style="left:860.2px;top:408.7px;width:20.4px;height:34.0px;background:#4dca05"><span>V</span><span>0.</span></div>
<div style="left:881.7px;top:408.7px;width:16.3px;height:34.0px;background:#22cb06;"></div>
<div style="left:815.0px;top:443.9px;width:25.4px;height:18.0px;background:#04c804;"></div>
<div style="left:815.0px;top:463.0px;width:25.4px;height:15.1px;background:#4dca05;"></div>
<div style="left:815.0px;top:479.0px;width:25.4px;height:12.6px;background:#04c804;"></div>
<div style="left:815.0px;top:492.8px;width:25.4px;height:9.3px;background:#04c804;"></div>
<div style="left:841.5px;top:443.9px;width:14.9px;height:15.2px;background:#04c804;"></div>
<div style="left:857.5px;top:443.9px;width:12.8px;height:15.2px;background:#04c804;"></div>
<div style="left:871.5px;top:443.9px;width:11.7px;height:15.2px;background:#da720c;"></div>
<div style="left:884.3px;top:443.9px;width:6.4px;height:15.2px;background:#04c804;"></div>
<div style="left:891.7px;top:443.9px;width:6.4px;height:15.2px;background:#04c804;"></div>
<div style="left:841.5px;top:460.3px;width:11.7px;height:8.2px;background:#04c804;"></div>
<div style="left:841.5px;top:469.5px;width:11.7px;height:8.4px;background:#3ccb05;"></div>
<div style="left:841.5px;top:479.0px;width:11.7px;height:7.5px;background:#3ccb05;"></div>
<div style="left:841.5px;top:487.6px;width:11.7px;height:7.0px;background:#da720c;"></div>
<div style="left:841.5px;top:495.7px;width:11.7px;height:6.4px;background:#04c804;"></div>
<div style="left:854.3px;top:460.3px;width:11.3px;height:6.5px;background:#04c804;"></div>
<div style="left:854.3px;top:467.8px;width:11.3px;height:6.8px;background:#04c804;"></div>
<div style="left:854.3px;top:475.7px;width:11.3px;height:6.2px;background:#da720c;"></div>
<div style="left:854.3px;top:483.0px;width:11.3px;height:5.8px;background:#04c804;"></div>
<div style="left:854.3px;top:489.9px;width:11.3px;height:5.5px;background:#4dca05;"></div>
<div style="left:854.3px;top:496.4px;width:11.3px;height:5.6px;background:#d3d316;"></div>
<div style="left:866.7px;top:460.3px;width:6.6px;height:9.3px;background:#04c804;"></div>
<div style="left:874.4px;top:460.3px;width:5.6px;height:9.3px;background:#3ccb05;"></div>
<div style="left:881.0px;top:460.3px;width:5.6px;height:9.3px;background:#d3d316;"></div>
<div style="left:887.7px;top:460.3px;width:5.0px;height:9.3px;background:#04c804;"></div>
<div style="left:893.7px;top:460.3px;width:4.3px;height:9.3px;background:#da720c;"></div>
<div style="left:866.7px;top:470.6px;width:8.2px;height:4.8px;background:#04c804;"></div>
<div style="left:866.7px;top:476.4px;width:8.2px;height:4.6px;background:#4dca05;"></div>
<div style="left:866.7px;top:482.0px;width:8.2px;height:4.3px;background:#04c804;"></div>
<div style="left:866.7px;top:487.4px;width:8.2px;height:4.7px;background:#da720c;"></div>
<div style="left:866.7px;top:493.1px;width:8.2px;height:3.9px;background:#d3d316;"></div>
<div style="left:866.7px;top:498.0px;width:8.2px;height:4.1px;background:#da720c;"></div>
<div style="left:875.9px;top:470.6px;width:3.9px;height:7.8px;background:#3ccb05;"></div>
<div style="left:880.8px;top:470.6px;width:4.0px;height:7.8px;background:#3ccb05;"></div>
<div style="left:885.9px;top:470.6px;width:3.8px;height:7.8px;background:#da720c;"></div>
<div style="left:890.7px;top:470.6px;width:3.4px;height:7.8px;background:#4dca05;"></div>
<div style="left:895.1px;top:470.6px;width:2.9px;height:7.8px;background:#22cb06;"></div>
<div style="left:875.9px;top:479.4px;width:3.6px;height:5.9px;background:#3ccb05;"></div>
<div style="left:880.5px;top:479.4px;width:3.8px;height:5.9px;background:#3ccb05;"></div>
<div style="left:885.3px;top:479.4px;width:3.8px;height:5.9px;background:#da720c;"></div>
<div style="left:890.2px;top:479.4px;width:3.2px;height:5.9px;background:#4dca05;"></div>
<div style="left:894.5px;top:479.4px;width:3.6px;height:5.9px;background:#22cb06;"></div>
<div style="left:875.9px;top:486.4px;width:6.0px;height:3.8px;background:#04c804;"></div>
<div style="left:875.9px;top:491.1px;width:6.0px;height:2.9px;background:#3ccb05;"></div>
<div style="left:875.9px;top:494.8px;width:6.0px;height:3.0px;background:#cc0303;"></div>
<div style="left:875.9px;top:498.8px;width:6.0px;height:3.2px;background:#04c804;"></div>
<div style="left:883.0px;top:486.4px;width:3.7px;height:4.5px;background:#3ccb05;"></div>
<div style="left:883.0px;top:492.7px;width:3.7px;height:2.4px;background:#d3d316;"></div>
<div style="left:883.0px;top:495.9px;width:3.7px;height:2.4px;background:#04c804;"></div>
<div style="left:883.0px;top:499.4px;width:3.7px;height:2.7px;background:#4dca05;"></div>
<div style="left:887.7px;top:486.4px;width:2.8px;height:4.8px;background:#da720c;"></div>
<div style="left:891.6px;top:486.4px;width:2.9px;height:4.8px;background:#d8420e;"></div>
<div style="left:895.6px;top:486.4px;width:2.5px;height:4.8px;background:#da720c;"></div>
<div style="left:887.7px;top:492.1px;width:4.6px;height:2.0px;background:#da720c;"></div>
<div style="left:887.7px;top:495.2px;width:4.6px;height:2.3px;background:#04c804;"></div>
<div style="left:887.7px;top:498.4px;width:4.6px;height:3.7px;background:#da720c;"></div>
<div style="left:893.2px;top:492.1px;width:1.8px;height:3.4px;background:#da720c;"></div>
<div style="left:895.9px;top:492.1px;width:2.2px;height:3.4px;background:#da720c;"></div>
<div style="left:893.2px;top:496.4px;width:2.4px;height:5.6px;background:#d8420e;"></div>
<div style="left:896.4px;top:496.4px;width:1.6px;height:3.4px;background:#da720c;"></div>
<div style="left:896.4px;top:500.6px;width:1.6px;height:1.4px;background:#d8420e;"></div>
<div style="left:904.5px;top:316.0px;width:91.0px;height:185.5px;background:#0b860b;"></div>
<div class="lab" style="left:904.5px;top:316.0px;width:54.7px;height:70.2px;background:#da720c"><span>PAS</span><span>-1.23%</span></div>
<div class="lab" style="left:960.3px;top:316.0px;width:35.2px;height:70.2px;background:#04c804"><span>M...</span><span>9....</span></div>
<div class="lab" style="left:904.5px;top:387.6px;width:33.7px;height:64.1px;background:#04c804"><span>D...</span><span>5....</span></div>
<div class="lab" style="left:939.3px;top:387.6px;width:30.1px;height:64.1px;background:#04c804"><span>DRI</span><span>7.8</span></div>
<div class="lab" style="left:970.5px;top:387.6px;width:25.0px;height:64.1px;background:#22cb06"><span>L</span><span>3.</span></div>
<div class="lab" style="left:904.5px;top:452.9px;width:40.5px;height:31.7px;background:#3ccb05"><span>TVN</span><span>2.0...</span></div>
<div style="left:946.2px;top:452.9px;width:20.0px;height:30.7px;background:#22cb06;"></div>
<div style="left:967.3px;top:452.9px;width:14.9px;height:30.7px;background:#d3d316;"></div>
<div style="left:983.3px;top:452.9px;width:12.2px;height:30.7px;background:#4dca05;"></div>
<div style="left:904.5px;top:485.8px;width:40.5px;height:15.7px;background:#3ccb05;"></div>
<div style="left:946.2px;top:484.8px;width:16.1px;height:16.7px;background:#4dca05;"></div>
<div style="left:963.5px;top:484.8px;width:14.5px;height:8.4px;background:#04c804;"></div>
<div style="left:963.5px;top:494.2px;width:14.5px;height:7.3px;background:#04c804;"></div>
<div style="left:979.0px;top:484.8px;width:8.0px;height:10.5px;background:#04c804;"></div>
<div style="left:988.0px;top:484.8px;width:7.5px;height:10.5px;background:#da720c;"></div>
<div style="left:979.0px;top:496.3px;width:5.0px;height:1.9px;background:#d3d316;"></div>
<div style="left:985.0px;top:496.3px;width:5.0px;height:1.9px;background:#d3d316;"></div>
<div style="left:991.0px;top:496.3px;width:4.5px;height:1.9px;background:#4dca05;"></div>
<div style="left:979.0px;top:499.2px;width:7.0px;height:2.3px;background:#da720c;"></div>
<div style="left:987.0px;top:499.2px;width:4.0px;height:2.3px;background:#4dca05;"></div>
<div style="left:992.0px;top:499.2px;width:3.5px;height:2.3px;background:#da720c;"></div>
<div style="left:709.0px;top:531.0px;width:129.5px;height:119.0px;background:#0b860b;"></div>
<div class="lab" style="left:709.0px;top:531.0px;width:86.7px;height:121.5px;background:#04c804"><span>VGT</span><span>6.56%</span></div>
<div style="left:796.9px;top:531.0px;width:20.2px;height:31.7px;background:#d3d316;"></div>
<div style="left:818.3px;top:531.0px;width:20.2px;height:31.7px;background:#04c804;"></div>
<div style="left:796.9px;top:563.9px;width:20.2px;height:30.8px;background:#04c804;"></div>
<div style="left:818.3px;top:563.9px;width:20.2px;height:30.8px;background:#3ccb05;"></div>
<div style="left:796.9px;top:596.0px;width:15.8px;height:19.7px;background:#04c804;"></div>
<div style="left:813.9px;top:596.0px;width:13.8px;height:19.7px;background:#da720c;"></div>
<div style="left:828.9px;top:596.0px;width:9.6px;height:19.7px;background:#d3d316;"></div>
<div style="left:796.9px;top:617.0px;width:17.3px;height:12.2px;background:#04c804;"></div>
<div style="left:815.4px;top:617.0px;width:7.3px;height:12.2px;background:#4dca05;"></div>
<div style="left:823.9px;top:617.0px;width:7.3px;height:12.2px;background:#4dca05;"></div>
<div style="left:832.3px;top:617.0px;width:6.2px;height:12.2px;background:#da720c;"></div>
<div style="left:796.9px;top:630.4px;width:17.3px;height:6.9px;background:#04c804;"></div>
<div style="left:815.4px;top:630.4px;width:8.6px;height:6.9px;background:#04c804;"></div>
<div style="left:825.1px;top:630.4px;width:6.9px;height:8.6px;background:#da720c;"></div>
<div style="left:833.1px;top:630.4px;width:5.4px;height:8.6px;background:#4dca05;"></div>
<div style="left:796.9px;top:638.5px;width:17.3px;height:6.5px;background:#3ccb05;"></div>
<div style="left:815.4px;top:638.5px;width:8.6px;height:6.5px;background:#4dca05;"></div>
<div style="left:825.1px;top:640.2px;width:3.9px;height:9.8px;background:#4dca05;"></div>
<div style="left:830.0px;top:640.2px;width:4.0px;height:9.8px;background:#4dca05;"></div>
<div style="left:835.0px;top:640.2px;width:3.5px;height:9.8px;background:#04c804;"></div>
<div style="left:796.9px;top:646.2px;width:17.3px;height:3.8px;background:#04c804;"></div>
<div style="left:815.4px;top:646.2px;width:8.6px;height:3.8px;background:#04c804;"></div>
<div style="left:845.0px;top:531.0px;width:118.3px;height:85.6px;background:#0b860b;"></div>
<div class="lab" style="left:845.0px;top:531.0px;width:76.2px;height:85.6px;background:#cc0303"><span>LMH</span><span>-8.70%</span></div>
<div class="lab" style="left:922.4px;top:531.0px;width:19.6px;height:41.6px;background:#22cb06"><span>C</span><span>4</span></div>
<div class="lab" style="left:943.2px;top:531.0px;width:20.1px;height:41.6px;background:#3ccb05"><span>C</span><span>2</span></div>
<div style="left:922.4px;top:573.8px;width:16.6px;height:30.4px;background:#4dca05;"></div>
<div style="left:940.1px;top:573.8px;width:11.1px;height:30.4px;background:#3ccb05;"></div>
<div style="left:952.3px;top:573.8px;width:11.0px;height:30.4px;background:#04c804;"></div>
<div style="left:922.4px;top:605.4px;width:27.8px;height:11.2px;background:#04c804;"></div>
<div style="left:951.3px;top:605.4px;width:9.7px;height:5.2px;background:#04c804;"></div>
<div style="left:951.3px;top:611.7px;width:9.7px;height:4.9px;background:#4dca05;"></div>
<div style="left:962.0px;top:605.4px;width:1.3px;height:11.2px;background:#4dca05;"></div>
<div style="left:969.7px;top:531.0px;width:25.6px;height:83.4px;background:#0b860b;"></div>
<div class="lab" style="left:969.7px;top:531.0px;width:25.6px;height:36.8px;background:#22cb06"><span>N</span><span>2.</span></div>
<div style="left:969.7px;top:569.3px;width:25.6px;height:29.5px;background:#22cb06;"></div>
<div style="left:969.7px;top:600.0px;width:9.1px;height:7.0px;background:#4dca05;"></div>
<div style="left:980.0px;top:600.0px;width:6.6px;height:7.0px;background:#4dca05;"></div>
<div style="left:987.8px;top:600.0px;width:3.2px;height:7.0px;background:#4dca05;"></div>
<div style="left:992.0px;top:600.0px;width:3.3px;height:4.6px;background:#cc0303;"></div>
<div style="left:992.0px;top:605.6px;width:1.3px;height:4.4px;background:#d3d316;"></div>
<div style="left:994.2px;top:605.6px;width:1.1px;height:4.4px;background:#d3d316;"></div>
<div style="left:969.7px;top:608.2px;width:9.1px;height:6.2px;background:#04c804;"></div>
<div style="left:980.0px;top:606.6px;width:6.6px;height:3.4px;background:#04c804;"></div>
<div style="left:980.0px;top:611.0px;width:6.6px;height:3.4px;background:#d3d316;"></div>
<div style="left:987.8px;top:608.0px;width:2.0px;height:6.4px;background:#4dca05;"></div>
<div style="left:990.7px;top:608.0px;width:2.3px;height:6.4px;background:#04c804;"></div>
<div style="left:994.0px;top:611.0px;width:1.3px;height:3.4px;background:#04c804;"></div>
<div style="left:845.0px;top:645.5px;width:115.7px;height:4.5px;background:#04c804;"></div>
<div style="left:961.8px;top:645.5px;width:1.5px;height:4.5px;background:#4dca05;"></div>
<div style="left:969.7px;top:642.4px;width:19.5px;height:4.2px;background:#22cb06;"></div>
<div style="left:990.3px;top:642.4px;width:5.0px;height:4.2px;background:#d3d316;"></div>
</div>
</div></body></html>
